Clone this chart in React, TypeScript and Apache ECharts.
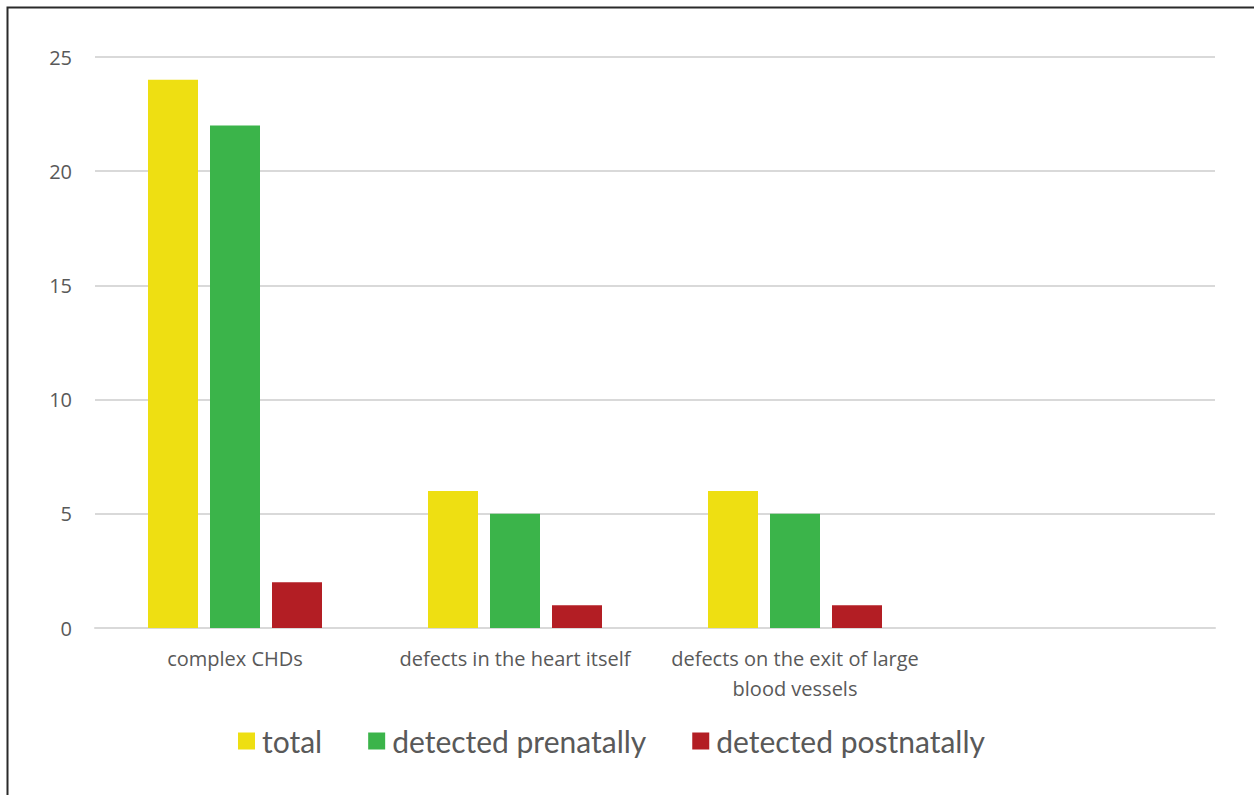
import React, { useEffect, useRef } from "react";
import * as echarts from "echarts";

const categories = [
  "complex CHDs",
  "defects in the heart itself",
  "defects on the exit of large\nblood vessels",
  "",
];
const totalValues = [24, 6, 6, null];
const prenatalValues = [22, 5, 5, null];
const postnatalValues = [2, 1, 1, null];
const seriesNames = ["total", "detected prenatally", "detected postnatally"];
const yTicks = { min: 0, max: 25, interval: 5 };

export default function App() {
  const ref = useRef<HTMLDivElement>(null);
  useEffect(() => {
    const chart = echarts.init(ref.current!, null, { renderer: "svg" });
    const axisFont = "'Open Sans', sans-serif";
    const legendFont = "Lato, sans-serif";
    const colors = ["#eedf12", "#3bb44a", "#b31e24"];
    const values = [totalValues, prenatalValues, postnatalValues];
    chart.setOption({
      animation: false,
      backgroundColor: "#ffffff",
      grid: { left: 95, right: 39, top: 57, bottom: 167, containLabel: false },
      graphic: [
        {
          type: "rect",
          shape: { x: 7.5, y: 7.5, width: 1300, height: 900 },
          style: { fill: "none", stroke: "#2a2a2a", lineWidth: 2 },
          silent: true,
        },
      ],
      legend: {
        top: 721,
        left: 233,
        itemWidth: 17,
        itemHeight: 17,
        itemGap: 46,
        icon: "rect",
        textStyle: {
          fontSize: 30,
          color: "#595959",
          fontFamily: legendFont,
          padding: [0, 0, 0, 2],
        },
        data: seriesNames,
      },
      xAxis: {
        type: "category",
        data: categories,
        axisLine: { lineStyle: { color: "#d9d9d9", width: 2 } },
        axisTick: { show: false },
        axisLabel: {
          interval: 0,
          fontSize: 20,
          color: "#595959",
          margin: 15,
          lineHeight: 30,
          fontFamily: axisFont,
        },
      },
      yAxis: {
        type: "value",
        min: yTicks.min,
        max: yTicks.max,
        interval: yTicks.interval,
        axisLine: { show: false },
        axisTick: { show: false },
        splitLine: { lineStyle: { color: "#d9d9d9", width: 2 } },
        axisLabel: { fontSize: 20, color: "#595959", margin: 23, fontFamily: axisFont },
      },
      series: seriesNames.map((name, i) => ({
        name,
        type: "bar",
        data: values[i],
        barWidth: 50,
        barGap: "24%",
        itemStyle: { color: colors[i] },
      })),
    });
    return () => chart.dispose();
  }, []);
  return (
    <div
      ref={ref}
      style={{ position: "fixed", left: 0, top: 0, width: 1254, height: 795 }}
    />
  );
}
